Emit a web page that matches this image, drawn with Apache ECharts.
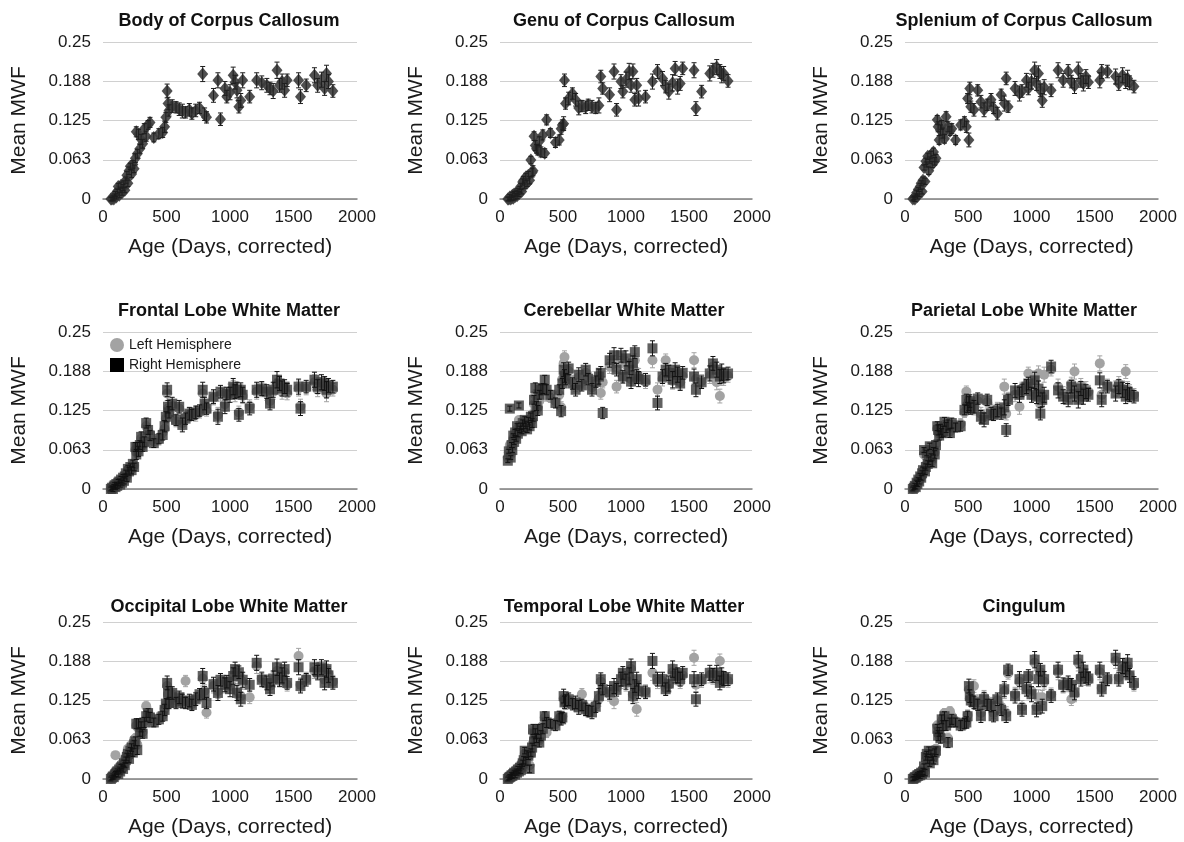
<!DOCTYPE html>
<html>
<head>
<meta charset="utf-8">
<script src="https://cdn.jsdelivr.net/npm/echarts@6/dist/echarts.min.js"></script>
<style>html,body{margin:0;background:#fff}#chart{width:1184px;height:842px}</style>
</head>
<body>
<div id="chart"></div>
<script>
"use strict"

// subject ages (days, corrected), shared by all nine panels
const ages = [
    62, 70, 78, 85, 92, 98, 105, 112, 120, 128,
    135, 142, 150, 158, 165, 172, 180, 188, 196, 205,
    215, 225, 235, 245, 255, 262, 270, 280, 290, 300,
    312, 325, 340, 355, 370, 400, 440, 470, 485, 495,
    505, 512, 520, 545, 575, 600, 625, 650, 680, 700,
    730, 760, 785, 800, 815, 870, 905, 925, 960, 975,
    1000, 1025, 1040, 1055, 1070, 1085, 1100, 1155, 1210, 1250,
    1290, 1315, 1340, 1370, 1390, 1410, 1430, 1450, 1540, 1555,
    1600, 1665, 1690, 1720, 1745, 1760, 1775, 1810
];
// half length of the error bars, per subject
const errs = [
    0.003, 0.003, 0.004, 0.003, 0.004, 0.004, 0.003, 0.004, 0.005, 0.004,
    0.004, 0.005, 0.004, 0.005, 0.005, 0.004, 0.005, 0.006, 0.005, 0.006,
    0.005, 0.006, 0.006, 0.006, 0.007, 0.008, 0.007, 0.008, 0.007, 0.008,
    0.007, 0.008, 0.008, 0.007, 0.008, 0.007, 0.008, 0.008, 0.009, 0.008,
    0.011, 0.010, 0.009, 0.010, 0.009, 0.010, 0.011, 0.009, 0.010, 0.009,
    0.010, 0.009, 0.012, 0.010, 0.009, 0.011, 0.012, 0.010, 0.011, 0.010,
    0.012, 0.013, 0.011, 0.012, 0.010, 0.011, 0.012, 0.010, 0.012, 0.011,
    0.011, 0.010, 0.012, 0.013, 0.011, 0.012, 0.011, 0.010, 0.012, 0.011,
    0.010, 0.012, 0.011, 0.012, 0.011, 0.013, 0.011, 0.010
];

const bodyCC = [
    0.000, 0.000, 0.002, 0.000, 0.004, 0.008, 0.003, 0.012, 0.020, 0.006,
    0.015, 0.022, 0.010, 0.018, 0.024, 0.014, 0.030, 0.038, 0.025, 0.045,
    0.052, 0.040, 0.055, 0.048, 0.065, 0.107, 0.072, 0.103, 0.080, 0.095,
    0.088, 0.112, 0.100, 0.118, 0.122, 0.098, 0.104, 0.106, 0.115, 0.130,
    0.172, 0.152, 0.141, 0.148, 0.146, 0.143, 0.140, 0.138, 0.142, 0.136,
    0.141, 0.145, 0.199, 0.135, 0.130, 0.165, 0.189, 0.127, 0.176, 0.163,
    0.170, 0.197, 0.186, 0.173, 0.147, 0.157, 0.189, 0.163, 0.189, 0.185,
    0.181, 0.176, 0.172, 0.205, 0.181, 0.187, 0.173, 0.189, 0.189, 0.163,
    0.181, 0.197, 0.181, 0.190, 0.176, 0.200, 0.187, 0.172
];
const genuCC = [
    0.000, 0.000, 0.003, 0.000, 0.002, 0.006, 0.001, 0.008, 0.004, 0.010,
    0.005, 0.012, 0.008, 0.015, 0.020, 0.012, 0.027, 0.030, 0.022, 0.035,
    0.025, 0.038, 0.030, 0.062, 0.042, 0.045, 0.100, 0.085, 0.080, 0.078,
    0.092, 0.075, 0.102, 0.073, 0.126, 0.105, 0.090, 0.094, 0.112, 0.118,
    0.120, 0.189, 0.152, 0.160, 0.168, 0.158, 0.145, 0.148, 0.146, 0.150,
    0.147, 0.145, 0.149, 0.195, 0.176, 0.166, 0.203, 0.142, 0.187, 0.171,
    0.190, 0.203, 0.181, 0.203, 0.158, 0.181, 0.160, 0.163, 0.187, 0.203,
    0.192, 0.179, 0.171, 0.185, 0.208, 0.179, 0.184, 0.208, 0.205, 0.144,
    0.171, 0.200, 0.205, 0.210, 0.203, 0.198, 0.200, 0.188
];
const spleniumCC = [
    0.000, 0.002, 0.000, 0.005, 0.010, 0.004, 0.015, 0.008, 0.020, 0.025,
    0.012, 0.030, 0.050, 0.028, 0.060, 0.055, 0.068, 0.045, 0.062, 0.070,
    0.055, 0.075, 0.060, 0.065, 0.126, 0.115, 0.094, 0.110, 0.118, 0.105,
    0.096, 0.131, 0.115, 0.108, 0.112, 0.094, 0.118, 0.123, 0.115, 0.160,
    0.094, 0.176, 0.147, 0.142, 0.173, 0.155, 0.142, 0.150, 0.158, 0.145,
    0.136, 0.166, 0.152, 0.192, 0.147, 0.176, 0.168, 0.172, 0.189, 0.176,
    0.187, 0.205, 0.184, 0.200, 0.173, 0.157, 0.178, 0.173, 0.205, 0.189,
    0.203, 0.187, 0.180, 0.205, 0.189, 0.184, 0.195, 0.186, 0.189, 0.203,
    0.203, 0.195, 0.184, 0.197, 0.187, 0.192, 0.185, 0.179
];

const frontalL = [
    0.000, 0.003, 0.001, 0.005, 0.004, 0.006, 0.007, 0.008, 0.012, 0.010,
    0.009, 0.013, 0.014, 0.016, 0.015, 0.022, 0.022, 0.020, 0.030, 0.030,
    0.033, 0.032, 0.038, 0.037, 0.062, 0.058, 0.064, 0.062, 0.068, 0.080,
    0.070, 0.072, 0.100, 0.090, 0.088, 0.076, 0.078, 0.090, 0.096, 0.112,
    0.152, 0.128, 0.120, 0.132, 0.108, 0.128, 0.105, 0.115, 0.118, 0.120,
    0.118, 0.122, 0.152, 0.132, 0.125, 0.145, 0.118, 0.150, 0.135, 0.148,
    0.155, 0.160, 0.150, 0.155, 0.122, 0.155, 0.148, 0.132, 0.155, 0.158,
    0.152, 0.140, 0.155, 0.168, 0.163, 0.155, 0.158, 0.152, 0.160, 0.132,
    0.160, 0.170, 0.158, 0.165, 0.163, 0.152, 0.160, 0.158
];
const frontalR = [
    0.000, 0.002, 0.000, 0.004, 0.006, 0.003, 0.008, 0.005, 0.010, 0.012,
    0.007, 0.015, 0.010, 0.018, 0.013, 0.020, 0.025, 0.018, 0.032, 0.028,
    0.035, 0.030, 0.040, 0.035, 0.067, 0.055, 0.067, 0.060, 0.070, 0.083,
    0.067, 0.075, 0.105, 0.094, 0.085, 0.073, 0.080, 0.086, 0.100, 0.115,
    0.158, 0.131, 0.122, 0.136, 0.110, 0.131, 0.102, 0.112, 0.120, 0.118,
    0.122, 0.125, 0.158, 0.136, 0.128, 0.147, 0.115, 0.155, 0.131, 0.152,
    0.150, 0.163, 0.155, 0.158, 0.118, 0.158, 0.150, 0.128, 0.158, 0.160,
    0.155, 0.136, 0.158, 0.174, 0.168, 0.160, 0.163, 0.158, 0.163, 0.128,
    0.163, 0.174, 0.163, 0.170, 0.168, 0.158, 0.165, 0.163
];
const cerebL = [
    0.050, 0.058, 0.070, 0.055, 0.065, 0.068, 0.080, 0.078, 0.085, 0.082,
    0.095, 0.090, 0.110, 0.092, 0.098, 0.095, 0.100, 0.102, 0.105, 0.100,
    0.098, 0.105, 0.102, 0.112, 0.110, 0.120, 0.135, 0.150, 0.128, 0.130,
    0.140, 0.150, 0.152, 0.160, 0.148, 0.145, 0.140, 0.150, 0.130, 0.175,
    0.200, 0.210, 0.185, 0.188, 0.172, 0.165, 0.178, 0.170, 0.185, 0.180,
    0.162, 0.168, 0.175, 0.153, 0.170, 0.195, 0.200, 0.163, 0.200, 0.178,
    0.198, 0.185, 0.175, 0.195, 0.205, 0.182, 0.180, 0.170, 0.205, 0.158,
    0.175, 0.205, 0.182, 0.172, 0.185, 0.178, 0.170, 0.180, 0.205, 0.175,
    0.172, 0.180, 0.195, 0.170, 0.148, 0.178, 0.176, 0.180
];
const cerebR = [
    0.045, 0.060, 0.128, 0.050, 0.070, 0.062, 0.085, 0.075, 0.090, 0.080,
    0.100, 0.088, 0.133, 0.095, 0.100, 0.092, 0.105, 0.098, 0.110, 0.102,
    0.095, 0.108, 0.100, 0.115, 0.105, 0.116, 0.142, 0.161, 0.132, 0.125,
    0.150, 0.158, 0.160, 0.174, 0.158, 0.150, 0.137, 0.158, 0.124, 0.168,
    0.190, 0.180, 0.175, 0.192, 0.168, 0.158, 0.182, 0.165, 0.190, 0.175,
    0.158, 0.171, 0.179, 0.185, 0.121, 0.205, 0.213, 0.190, 0.213, 0.179,
    0.208, 0.190, 0.171, 0.200, 0.218, 0.179, 0.175, 0.174, 0.224, 0.137,
    0.179, 0.190, 0.185, 0.174, 0.190, 0.182, 0.168, 0.185, 0.179, 0.158,
    0.170, 0.184, 0.200, 0.190, 0.179, 0.186, 0.180, 0.184
];
const parietalL = [
    0.000, 0.003, 0.004, 0.006, 0.008, 0.010, 0.012, 0.015, 0.018, 0.020,
    0.022, 0.028, 0.055, 0.030, 0.038, 0.050, 0.042, 0.048, 0.062, 0.052,
    0.045, 0.058, 0.058, 0.072, 0.096, 0.090, 0.088, 0.092, 0.092, 0.095,
    0.102, 0.100, 0.098, 0.092, 0.100, 0.102, 0.104, 0.122, 0.155, 0.135,
    0.140, 0.135, 0.132, 0.128, 0.140, 0.120, 0.115, 0.138, 0.125, 0.122,
    0.128, 0.125, 0.163, 0.120, 0.145, 0.150, 0.131, 0.160, 0.160, 0.184,
    0.155, 0.175, 0.152, 0.184, 0.135, 0.148, 0.182, 0.190, 0.163, 0.152,
    0.150, 0.168, 0.187, 0.150, 0.165, 0.152, 0.160, 0.155, 0.200, 0.150,
    0.165, 0.160, 0.168, 0.160, 0.187, 0.158, 0.155, 0.150
];
const parietalR = [
    0.000, 0.002, 0.005, 0.003, 0.010, 0.008, 0.015, 0.012, 0.020, 0.018,
    0.025, 0.030, 0.062, 0.028, 0.035, 0.057, 0.040, 0.045, 0.068, 0.050,
    0.041, 0.060, 0.055, 0.070, 0.100, 0.094, 0.085, 0.095, 0.089, 0.092,
    0.107, 0.098, 0.102, 0.089, 0.105, 0.098, 0.100, 0.126, 0.142, 0.130,
    0.136, 0.140, 0.128, 0.131, 0.144, 0.115, 0.110, 0.142, 0.120, 0.118,
    0.125, 0.120, 0.130, 0.094, 0.142, 0.157, 0.150, 0.157, 0.163, 0.168,
    0.150, 0.173, 0.147, 0.160, 0.120, 0.142, 0.150, 0.195, 0.157, 0.147,
    0.142, 0.163, 0.152, 0.142, 0.160, 0.147, 0.155, 0.150, 0.173, 0.142,
    0.163, 0.152, 0.163, 0.158, 0.147, 0.155, 0.150, 0.147
];
const occipitalL = [
    0.000, 0.004, 0.006, 0.005, 0.010, 0.038, 0.012, 0.015, 0.012, 0.020,
    0.018, 0.022, 0.025, 0.022, 0.030, 0.028, 0.035, 0.040, 0.048, 0.038,
    0.050, 0.055, 0.048, 0.063, 0.065, 0.085, 0.055, 0.085, 0.078, 0.080,
    0.075, 0.092, 0.116, 0.108, 0.100, 0.092, 0.098, 0.102, 0.112, 0.118,
    0.148, 0.135, 0.125, 0.135, 0.125, 0.128, 0.126, 0.156, 0.122, 0.120,
    0.128, 0.132, 0.160, 0.140, 0.106, 0.148, 0.140, 0.155, 0.148, 0.152,
    0.148, 0.160, 0.170, 0.140, 0.165, 0.132, 0.155, 0.130, 0.180, 0.160,
    0.155, 0.148, 0.158, 0.172, 0.160, 0.162, 0.170, 0.150, 0.196, 0.150,
    0.160, 0.172, 0.168, 0.175, 0.158, 0.170, 0.168, 0.155
];
const occipitalR = [
    0.000, 0.002, 0.004, 0.003, 0.006, 0.008, 0.010, 0.012, 0.008, 0.015,
    0.012, 0.018, 0.020, 0.016, 0.025, 0.022, 0.030, 0.035, 0.040, 0.032,
    0.045, 0.050, 0.042, 0.055, 0.060, 0.088, 0.046, 0.088, 0.075, 0.083,
    0.072, 0.090, 0.100, 0.105, 0.098, 0.090, 0.095, 0.100, 0.110, 0.120,
    0.153, 0.137, 0.121, 0.137, 0.121, 0.130, 0.124, 0.121, 0.125, 0.118,
    0.127, 0.135, 0.164, 0.137, 0.121, 0.151, 0.137, 0.158, 0.150, 0.155,
    0.143, 0.164, 0.175, 0.137, 0.170, 0.127, 0.158, 0.150, 0.185, 0.158,
    0.153, 0.143, 0.160, 0.178, 0.158, 0.165, 0.175, 0.153, 0.178, 0.148,
    0.158, 0.178, 0.170, 0.178, 0.153, 0.175, 0.165, 0.153
];
const temporalL = [
    0.000, 0.004, 0.005, 0.006, 0.008, 0.008, 0.010, 0.012, 0.010, 0.015,
    0.014, 0.018, 0.016, 0.020, 0.018, 0.025, 0.028, 0.032, 0.040, 0.030,
    0.038, 0.035, 0.022, 0.040, 0.055, 0.075, 0.062, 0.070, 0.068, 0.075,
    0.062, 0.072, 0.085, 0.098, 0.074, 0.085, 0.088, 0.096, 0.095, 0.100,
    0.128, 0.125, 0.120, 0.125, 0.122, 0.118, 0.116, 0.135, 0.114, 0.110,
    0.110, 0.118, 0.128, 0.155, 0.140, 0.135, 0.124, 0.145, 0.155, 0.165,
    0.152, 0.160, 0.175, 0.135, 0.145, 0.111, 0.145, 0.140, 0.169, 0.155,
    0.156, 0.145, 0.150, 0.170, 0.162, 0.162, 0.155, 0.165, 0.193, 0.150,
    0.156, 0.165, 0.162, 0.165, 0.188, 0.160, 0.158, 0.156
];
const temporalR = [
    0.000, 0.002, 0.003, 0.004, 0.006, 0.005, 0.008, 0.010, 0.007, 0.012,
    0.010, 0.015, 0.012, 0.018, 0.014, 0.020, 0.025, 0.030, 0.045, 0.028,
    0.040, 0.037, 0.016, 0.042, 0.050, 0.079, 0.060, 0.072, 0.065, 0.079,
    0.058, 0.069, 0.080, 0.100, 0.090, 0.088, 0.085, 0.100, 0.095, 0.098,
    0.132, 0.122, 0.125, 0.127, 0.119, 0.122, 0.114, 0.118, 0.111, 0.108,
    0.106, 0.115, 0.132, 0.159, 0.143, 0.138, 0.148, 0.142, 0.159, 0.169,
    0.155, 0.164, 0.180, 0.132, 0.148, 0.159, 0.140, 0.138, 0.188, 0.159,
    0.159, 0.143, 0.152, 0.175, 0.164, 0.165, 0.159, 0.169, 0.159, 0.127,
    0.159, 0.169, 0.165, 0.169, 0.153, 0.164, 0.160, 0.159
];
const cingulumL = [
    0.000, 0.002, 0.004, 0.003, 0.006, 0.008, 0.007, 0.010, 0.008, 0.012,
    0.010, 0.014, 0.018, 0.012, 0.030, 0.038, 0.032, 0.040, 0.028, 0.038,
    0.038, 0.035, 0.045, 0.048, 0.085, 0.072, 0.078, 0.070, 0.092, 0.095,
    0.105, 0.090, 0.065, 0.108, 0.100, 0.092, 0.088, 0.090, 0.092, 0.102,
    0.142, 0.128, 0.128, 0.148, 0.125, 0.105, 0.130, 0.122, 0.120, 0.105,
    0.125, 0.115, 0.140, 0.105, 0.168, 0.135, 0.155, 0.115, 0.145, 0.160,
    0.140, 0.185, 0.115, 0.130, 0.170, 0.130, 0.155, 0.135, 0.170, 0.148,
    0.150, 0.127, 0.135, 0.185, 0.162, 0.170, 0.160, 0.158, 0.170, 0.145,
    0.158, 0.188, 0.162, 0.175, 0.172, 0.180, 0.165, 0.150
];
const cingulumR = [
    0.000, 0.001, 0.003, 0.002, 0.004, 0.006, 0.005, 0.008, 0.006, 0.010,
    0.008, 0.012, 0.020, 0.010, 0.035, 0.040, 0.030, 0.045, 0.025, 0.040,
    0.035, 0.030, 0.042, 0.045, 0.080, 0.069, 0.075, 0.065, 0.095, 0.085,
    0.100, 0.085, 0.058, 0.090, 0.095, 0.090, 0.085, 0.088, 0.090, 0.100,
    0.148, 0.132, 0.125, 0.122, 0.118, 0.100, 0.127, 0.118, 0.117, 0.100,
    0.127, 0.110, 0.143, 0.100, 0.174, 0.132, 0.159, 0.110, 0.143, 0.164,
    0.135, 0.190, 0.110, 0.159, 0.174, 0.116, 0.159, 0.132, 0.174, 0.150,
    0.153, 0.150, 0.138, 0.190, 0.159, 0.174, 0.164, 0.160, 0.174, 0.143,
    0.159, 0.193, 0.159, 0.180, 0.174, 0.185, 0.165, 0.153
];

const panels = [
    { title: "Body of Corpus Callosum", single: bodyCC },
    { title: "Genu of Corpus Callosum", single: genuCC },
    { title: "Splenium of Corpus Callosum", single: spleniumCC },
    { title: "Frontal Lobe White Matter", left: frontalL, right: frontalR },
    { title: "Cerebellar White Matter", left: cerebL, right: cerebR },
    { title: "Parietal Lobe White Matter", left: parietalL, right: parietalR },
    { title: "Occipital Lobe White Matter", left: occipitalL, right: occipitalR },
    { title: "Temporal Lobe White Matter", left: temporalL, right: temporalR },
    { title: "Cingulum", left: cingulumL, right: cingulumR }
];

const FONT = "Liberation Sans, Arial, Helvetica, sans-serif";
const colLeft = [103, 500, 905], colWidth = [254, 252, 253], titleX = [229, 624, 1024];
const rowTop = [42, 332, 622], titleTop = [12, 302, 598], plotH = 157;

function errBar(params, api)
{
    const x = api.value(0);
    const lo = api.coord([x, api.value(1)]);
    const hi = api.coord([x, api.value(2)]);
    const w = 2.5;
    const style = { stroke: api.visual("color"), lineWidth: 1 };
    return {
        type: "group",
        children: [
            { type: "line", shape: { x1: lo[0], y1: lo[1], x2: hi[0], y2: hi[1] }, style },
            { type: "line", shape: { x1: lo[0] - w, y1: lo[1], x2: lo[0] + w, y2: lo[1] }, style },
            { type: "line", shape: { x1: hi[0] - w, y1: hi[1], x2: hi[0] + w, y2: hi[1] }, style }
        ]
    };
}

const points = vals => ages.map((a, i) => [a, vals[i]]);
const bars = vals => ages.map((a, i) => [a, vals[i] - errs[i], vals[i] + errs[i]]);

const grids = [], xAxes = [], yAxes = [], titles = [], series = [];
panels.forEach((p, k) =>
{
    const r = Math.floor(k / 3), c = k % 3;
    grids.push({ left: colLeft[c], top: rowTop[r], width: colWidth[c], height: plotH });
    titles.push({
        text: p.title, left: titleX[c], top: titleTop[r], textAlign: "center", padding: 0,
        textStyle: { fontFamily: FONT, fontSize: 18, fontWeight: "bold", color: "#111" }
    });
    xAxes.push({
        gridIndex: k, type: "value", min: 0, max: 2000, interval: 500,
        name: "Age (Days, corrected)", nameLocation: "middle", nameGap: 38,
        nameTextStyle: { fontFamily: FONT, fontSize: 21, color: "#1a1a1a" },
        axisLine: { show: true, onZero: false, lineStyle: { color: "#808080", width: 1.5 } },
        axisTick: { show: false },
        splitLine: { show: false },
        axisLabel: { fontFamily: FONT, fontSize: 17, color: "#1a1a1a", margin: 10, formatter: v => String(v) }
    });
    yAxes.push({
        gridIndex: k, type: "value", min: 0, max: 0.25, interval: 0.0625,
        name: "Mean MWF", nameLocation: "middle", nameGap: 73,
        nameTextStyle: { fontFamily: FONT, fontSize: 21, color: "#1a1a1a" },
        axisLine: { show: false }, axisTick: { show: false },
        splitLine: { lineStyle: { color: "#d0d0d0", width: 1 } },
        axisLabel: { fontFamily: FONT, fontSize: 17, color: "#1a1a1a", margin: 12, formatter: v => String(parseFloat(v.toFixed(3))) }
    });
    if (p.single)
    {
        series.push({
            type: "scatter", xAxisIndex: k, yAxisIndex: k, name: p.title, data: points(p.single),
            symbol: "diamond", symbolSize: [11, 13], clip: false, z: 2,
            itemStyle: { color: "#3c3c3c", opacity: 0.9 }
        });
        series.push({
            type: "custom", xAxisIndex: k, yAxisIndex: k, data: bars(p.single), renderItem: errBar,
            encode: { x: 0, y: [1, 2] }, z: 3, itemStyle: { color: "#1e1e1e" }
        });
    }
    else
    {
        series.push({
            type: "scatter", xAxisIndex: k, yAxisIndex: k, name: "Left Hemisphere", data: points(p.left),
            symbol: "circle", symbolSize: 10, clip: false, z: 2,
            itemStyle: { color: "#a3a3a3", opacity: 1 }
        });
        series.push({
            type: "custom", xAxisIndex: k, yAxisIndex: k, data: bars(p.left), renderItem: errBar,
            encode: { x: 0, y: [1, 2] }, z: 3, itemStyle: { color: "#a3a3a3" }
        });
        series.push({
            type: "scatter", xAxisIndex: k, yAxisIndex: k, name: "Right Hemisphere", data: points(p.right),
            symbol: "rect", symbolSize: 10, clip: false, z: 4,
            itemStyle: { color: "#3a3a3a", opacity: 0.8 }
        });
        series.push({
            type: "custom", xAxisIndex: k, yAxisIndex: k, data: bars(p.right), renderItem: errBar,
            encode: { x: 0, y: [1, 2] }, z: 5, itemStyle: { color: "#111" }
        });
    }
});

const myChart = echarts.init(document.getElementById("chart"), null, { renderer: "canvas" });
myChart.setOption({
    backgroundColor: "#fff",
    animation: false,
    title: titles,
    grid: grids,
    xAxis: xAxes,
    yAxis: yAxes,
    legend: {
        left: 105, top: 333, orient: "vertical", itemGap: 6, itemWidth: 14, itemHeight: 14,
        selectedMode: false,
        textStyle: { fontFamily: FONT, fontSize: 14, color: "#1a1a1a" },
        data: [
            { name: "Left Hemisphere", icon: "circle", itemStyle: { color: "#a3a3a3", opacity: 1 } },
            { name: "Right Hemisphere", icon: "rect", itemStyle: { color: "#000", opacity: 1 } }
        ]
    },
    series: series
});
</script>
</body>
</html>
